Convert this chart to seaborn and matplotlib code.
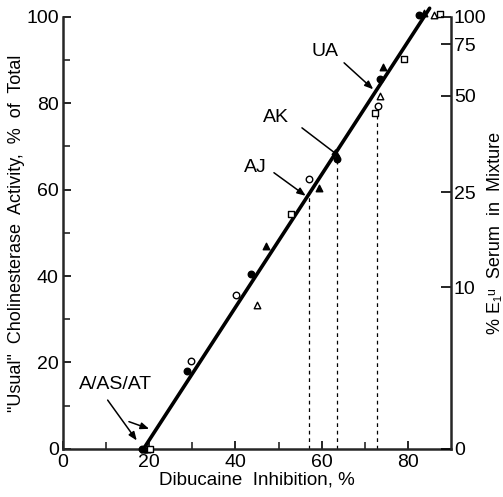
import matplotlib
matplotlib.use("Agg")
import matplotlib.pyplot as plt
import seaborn as sns
import numpy as np
import pandas as pd

sns.set_style("ticks")
plt.rcParams['font.family'] = ['Liberation Sans', 'DejaVu Sans']
plt.rcParams['text.color'] = 'black'
plt.rcParams['axes.labelcolor'] = 'black'

# measured points, grouped by marker kind
open_circle_x = [19.0, 29.7, 40.2, 57.0, 73.1]
open_circle_y = [0, 20.4, 35.5, 62.4, 79.3]
filled_circle_x = [18.3, 28.7, 43.7, 63.6, 73.6, 82.5]
filled_circle_y = [0, 17.9, 40.4, 67.0, 85.6, 100.5]
open_tri_x = [19.5, 44.9, 73.6, 86.0]
open_tri_y = [0, 33.4, 81.7, 100.5]
filled_tri_x = [18.8, 47.0, 59.3, 74.3, 83.6]
filled_tri_y = [0, 46.9, 60.3, 88.4, 101.0]
open_square_x = [20.3, 52.8, 72.4, 79.0, 87.4]
open_square_y = [0, 54.3, 77.7, 90.3, 100.7]

# fitted line
line_x = [18.7, 85.0]
line_y = [0, 102.0]

# dashed drop lines for AJ, AK, UA
drop_x = [57.0, 63.6, 72.9]
drop_top = [58.5, 67.0, 77.0]

# right axis: % E1u serum, placed on the activity scale
right_pos = [0, 37.4, 59.4, 81.7, 93.7, 100]
right_labels = ['0', '10', '25', '50', '75', '100']

fig = plt.figure(figsize=(5.03, 4.97), dpi=100)
ax = fig.add_axes([0.125, 0.097, 0.772, 0.869])

sns.lineplot(x=line_x, y=line_y, ax=ax, color='black', lw=2.6, clip_on=False)
ax.vlines(drop_x, 0, drop_top, colors='black', linestyles=(0, (3, 3)), lw=0.9)

kinds = [
    (open_circle_x, open_circle_y, 'o', 'white'),
    (filled_circle_x, filled_circle_y, 'o', 'black'),
    (open_tri_x, open_tri_y, '^', 'white'),
    (filled_tri_x, filled_tri_y, '^', 'black'),
    (open_square_x, open_square_y, 's', 'white'),
]
for xs, ys, m, fc in kinds:
    sns.scatterplot(x=xs, y=ys, ax=ax, marker=m, s=22, color=fc,
                    edgecolor='black', linewidth=1.0, clip_on=False, zorder=5)

arrow = dict(arrowstyle='-|>,head_length=0.5,head_width=0.2', color='black', lw=1.1)
fs = 14
ax.text(60.7, 91.9, 'UA', fontsize=fs, ha='center', va='center')
ax.annotate('', xy=(72.4, 82.8), xytext=(64.7, 89.8), arrowprops=arrow)
ax.text(49.5, 76.8, 'AK', fontsize=fs, ha='center', va='center')
ax.annotate('', xy=(65.0, 67.0), xytext=(54.9, 74.7), arrowprops=arrow)
ax.text(44.6, 65.2, 'AJ', fontsize=fs, ha='center', va='center')
ax.annotate('', xy=(56.8, 58.2), xytext=(48.4, 64.3), arrowprops=arrow)
ax.text(12.1, 14.8, 'A/AS/AT', fontsize=fs, ha='center', va='center')
ax.annotate('', xy=(17.5, 1.4), xytext=(10.0, 11.8), arrowprops=arrow)
ax.annotate('', xy=(20.6, 4.4), xytext=(14.7, 6.5), arrowprops=arrow)

ax.set_xlim(0, 90)
ax.set_ylim(0, 100)
ax.set_xticks([0, 20, 40, 60, 80])
ax.set_xticks(np.arange(10, 90, 20), minor=True)
ax.set_yticks([0, 20, 40, 60, 80, 100])
ax.set_yticks(np.arange(10, 100, 20), minor=True)
ax.tick_params(direction='in', length=6, width=1.2, labelsize=14, colors='black')
ax.tick_params(axis='x', pad=4)
ax.tick_params(axis='y', pad=3)
ax.tick_params(which='minor', direction='in', length=5, width=1.2)
ax.set_xlabel('Dibucaine  Inhibition, %', fontsize=13.5, labelpad=0)
ax.set_ylabel('"Usual"  Cholinesterase  Activity,  %  of  Total', fontsize=13, labelpad=1)
for s in ['left', 'bottom']:
    ax.spines[s].set_linewidth(1.8)
ax.spines['top'].set_visible(False)
ax.spines['right'].set_visible(False)

ax2 = ax.twinx()
ax2.set_ylim(0, 100)
ax2.set_yticks(right_pos)
ax2.set_yticklabels(right_labels)
ax2.tick_params(direction='in', length=7, width=1.2, labelsize=14, pad=2, colors='black')
ax2.set_ylabel('% E₁ᵘ  Serum  in  Mixture', fontsize=13, labelpad=0)
ax2.spines['right'].set_linewidth(1.8)
ax2.spines['top'].set_visible(False)
ax2.spines['left'].set_visible(False)
ax2.spines['bottom'].set_visible(False)

fig.savefig('out.png', dpi=100)
